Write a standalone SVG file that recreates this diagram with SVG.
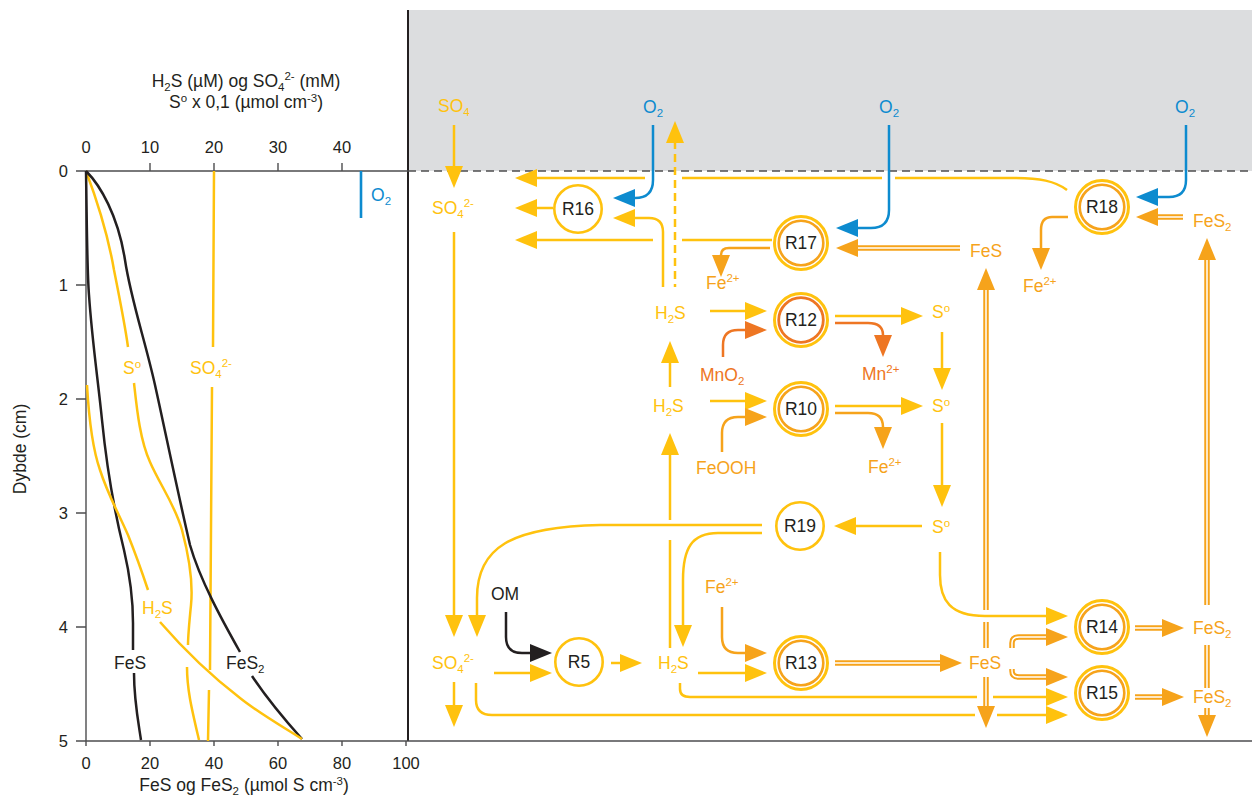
<svg xmlns="http://www.w3.org/2000/svg" width="1252" height="796" viewBox="0 0 1252 796">
<defs>
<style>
text{font-family:'Liberation Sans',Arial,Helvetica,sans-serif;font-size:17.5px}
.tick{font-size:16.5px;fill:#231F20}
.s{font-size:11.5px}
.ty{fill:#FFC20E}.to{fill:#F6A31B}.tm{fill:#EE7623}.tb{fill:#0D8BCF}.tk{fill:#231F20}
.halo{stroke:#fff;stroke-width:7;paint-order:stroke;stroke-linejoin:round}
.y{fill:none;stroke:#FFC20E;stroke-width:2.5}
.o{fill:none;stroke:#F6A31B;stroke-width:2.5}
.m{fill:none;stroke:#EE7623;stroke-width:2.5}
.b{fill:none;stroke:#0D8BCF;stroke-width:2.5}
.k{fill:none;stroke:#231F20;stroke-width:2.5}
.dbo{fill:none;stroke:#F6A31B;stroke-width:5.5}
.dbi{fill:none;stroke:#fff;stroke-width:1.5}
.ax{fill:none;stroke:#4D4D4F;stroke-width:1.4}
.c1{fill:#fff;stroke:#FFC20E;stroke-width:2.6}
.c2{fill:#fff;stroke:#FFC20E;stroke-width:3}
.ci{fill:none;stroke:#F6A31B;stroke-width:2.6}
.cim{fill:none;stroke:#EE7623;stroke-width:2.8}
.pk{fill:none;stroke:#231F20;stroke-width:2.5}
.py{fill:none;stroke:#FFC20E;stroke-width:2.5}
</style>
<marker id="ay" viewBox="0 0 22 18" refX="0" refY="9" markerWidth="22" markerHeight="18" markerUnits="userSpaceOnUse" orient="auto"><path d="M0,0 22,9 0,18z" fill="#FFC20E"/></marker>
<marker id="ao" viewBox="0 0 22 18" refX="0" refY="9" markerWidth="22" markerHeight="18" markerUnits="userSpaceOnUse" orient="auto"><path d="M0,0 22,9 0,18z" fill="#F6A31B"/></marker>
<marker id="am" viewBox="0 0 22 18" refX="0" refY="9" markerWidth="22" markerHeight="18" markerUnits="userSpaceOnUse" orient="auto"><path d="M0,0 22,9 0,18z" fill="#EE7623"/></marker>
<marker id="ab" viewBox="0 0 22 18" refX="0" refY="9" markerWidth="22" markerHeight="18" markerUnits="userSpaceOnUse" orient="auto"><path d="M0,0 22,9 0,18z" fill="#0D8BCF"/></marker>
<marker id="ak" viewBox="0 0 22 18" refX="0" refY="9" markerWidth="22" markerHeight="18" markerUnits="userSpaceOnUse" orient="auto"><path d="M0,0 22,9 0,18z" fill="#231F20"/></marker>
<path id="d1" d="M960,248 H858"/>
<path id="d2" d="M1183,217 H1158"/>
<path id="d3" d="M835,663 H940"/>
<path id="d4a" d="M986,648 V622"/>
<path id="d4b" d="M986,610 V290"/>
<path id="d5" d="M986,677 V706"/>
<path id="d6" d="M1012,648 V643 Q1012,637 1019,637 H1046"/>
<path id="d7" d="M1012,669 V671 Q1012,677 1019,677 H1046"/>
<path id="d8" d="M1135,628 H1162"/>
<path id="d9" d="M1135,697 H1162"/>
<path id="d10" d="M1207,605 V260"/>
<path id="d11" d="M1207,645 V688"/>
<path id="d12" d="M1207,708 V715"/>
</defs>
<rect width="1252" height="796" fill="#fff"/>
<rect x="408" y="10" width="844" height="161" fill="#DCDDDF"/>

<g id="frame">
<line x1="408" y1="10" x2="408" y2="741" stroke="#231F20" stroke-width="2"/>
<line x1="408" y1="171" x2="1252" y2="171" stroke="#4D4D4F" stroke-width="1.4" stroke-dasharray="8 5"/>
<line x1="408" y1="741" x2="1252" y2="741" class="ax"/>
</g>

<g id="profile-plot">
<path class="ax" d="M76,171 H408 M86,171 V741 M76,741 H408"/>
<path class="ax" d="M150,163 V171 M214,163 V171 M278,163 V171 M342,163 V171"/>
<path class="ax" d="M76,285 H86 M76,399 H86 M76,513 H86 M76,627 H86"/>
<path class="ax" d="M86,741 V746 M150,741 V746 M214,741 V746 M278,741 V746 M342,741 V746 M406,741 V746"/>
<g class="tick" text-anchor="middle">
<text class="tick" x="86" y="153">0</text><text class="tick" x="150" y="153">10</text><text class="tick" x="214" y="153">20</text><text class="tick" x="278" y="153">30</text><text class="tick" x="342" y="153">40</text>
<text class="tick" x="86" y="769">0</text><text class="tick" x="150" y="769">20</text><text class="tick" x="214" y="769">40</text><text class="tick" x="278" y="769">60</text><text class="tick" x="342" y="769">80</text><text class="tick" x="406" y="769">100</text>
</g>
<g text-anchor="end">
<text class="tick" x="68" y="177">0</text><text class="tick" x="68" y="291">1</text><text class="tick" x="68" y="405">2</text><text class="tick" x="68" y="519">3</text><text class="tick" x="68" y="633">4</text><text class="tick" x="68" y="747">5</text>
</g>
<text class="tk" x="246" y="87" text-anchor="middle">H<tspan class="s" dy="4">2</tspan><tspan dy="-4">S (µM) og SO</tspan><tspan class="s" dy="4">4</tspan><tspan class="s" dy="-11">2-</tspan><tspan dy="7"> (mM)</tspan></text>
<text class="tk" x="246" y="108" text-anchor="middle">S<tspan class="s" dy="-6">o</tspan><tspan dy="6"> x 0,1 (µmol cm</tspan><tspan class="s" dy="-6">-3</tspan><tspan dy="6">)</tspan></text>
<text class="tk" x="244" y="791" text-anchor="middle">FeS og FeS<tspan class="s" dy="4">2</tspan><tspan dy="-4"> (µmol S cm</tspan><tspan class="s" dy="-6">-3</tspan><tspan dy="6">)</tspan></text>
<text class="tk" transform="translate(26,449) rotate(-90)" text-anchor="middle">Dybde (cm)</text>
<!-- SO4 profile -->
<path class="py" d="M214,171 L213,347 M212,387 L210,670 M209,690 L208,741"/>
<!-- So profile -->
<path class="py" d="M86,171 C95,195 108,235 114,270 C120,300 125,325 128,347 M134,383 C137,410 140,440 150,462 C160,485 175,505 182,530 C190,560 193,585 191,605 C189,625 188,635 188,645 M187,667 C187,690 192,710 199,740"/>
<!-- FeS -->
<path class="pk" d="M86,171 C87,230 87,270 89,295 C92,340 98,380 102,420 C107,470 114,510 124,550 C131,580 133,600 133,623 L133,650 M134,673 C134,700 138,720 141,740"/>
<!-- FeS2 -->
<path class="pk" d="M86,171 C100,185 118,215 125,260 C131,300 145,340 155,385 C165,430 175,480 190,545 C200,580 222,620 240,652 M252,676 C268,700 285,720 302,739"/>
<!-- H2S -->
<path class="py" d="M87,385 C89,420 93,450 100,470 C108,495 118,512 128,535 C136,555 143,575 148,590 M160,622 C180,645 210,675 240,698 C260,714 285,728 302,739"/>
<line x1="361" y1="171" x2="361" y2="218" stroke="#0D8BCF" stroke-width="2.6"/>
<text class="tb" x="371" y="201">O<tspan class="s" dy="4">2</tspan></text>
<text class="ty" x="123" y="374">S<tspan class="s" dy="-6">o</tspan></text>
<text class="ty" x="190" y="374">SO<tspan class="s" dy="4">4</tspan><tspan class="s" dy="-11">2-</tspan></text>
<text class="ty" x="142" y="614">H<tspan class="s" dy="4">2</tspan><tspan dy="-4">S</tspan></text>
<text class="tk" x="114" y="669">FeS</text>
<text class="tk" x="226" y="669">FeS<tspan class="s" dy="4">2</tspan></text>
</g>

<g id="connectors">
<!-- yellow -->
<path class="y" d="M454,125 V166" marker-end="url(#ay)"/>
<path class="y" d="M454,232 V615" marker-end="url(#ay)"/>
<path class="y" d="M1067,190 C1055,181 1040,178 1013,178 H895 M882,178 H682"/>
<path class="y" d="M645,178 H537" marker-end="url(#ay)"/>
<path class="y" d="M553,208 H537" marker-end="url(#ay)"/>
<path class="y" d="M772,240 H682"/>
<path class="y" d="M653,240 H537" marker-end="url(#ay)"/>
<path class="y" d="M663,287 V232 Q663,218 649,218 H635" marker-end="url(#ay)"/>
<path class="y" d="M675,287 V143" stroke-dasharray="8 5" stroke-dashoffset="5" marker-end="url(#ay)"/>
<path class="y" d="M710,311 H745" marker-end="url(#ay)"/>
<path class="y" d="M835,316 H901" marker-end="url(#ay)"/>
<path class="y" d="M942,332 V368" marker-end="url(#ay)"/>
<path class="y" d="M670,387 V363" marker-end="url(#ay)"/>
<path class="y" d="M710,401 H745" marker-end="url(#ay)"/>
<path class="y" d="M835,406 H901" marker-end="url(#ay)"/>
<path class="y" d="M942,423 V485" marker-end="url(#ay)"/>
<path class="y" d="M670,648 V540"/>
<path class="y" d="M670,520 V455" marker-end="url(#ay)"/>
<path class="y" d="M922,526 H856" marker-end="url(#ay)"/>
<path class="y" d="M762,525 H600 C510,527 477,548 477,598 V615" marker-end="url(#ay)"/>
<path class="y" d="M762,533 H718 C692,533 683,548 683,580 V625" marker-end="url(#ay)"/>
<path class="y" d="M454,682 V705" marker-end="url(#ay)"/>
<path class="y" d="M494,673 H530" marker-end="url(#ay)"/>
<path class="y" d="M611,663 H620" marker-end="url(#ay)"/>
<path class="y" d="M698,673 H745" marker-end="url(#ay)"/>
<path class="y" d="M680,683 V689 Q680,697 690,697 H977"/>
<path class="y" d="M993,697 H1046" marker-end="url(#ay)"/>
<path class="y" d="M476,683 V700 Q476,715 492,715 H975"/>
<path class="y" d="M997,715 H1046" marker-end="url(#ay)"/>
<path class="y" d="M940,552 V575 C940,600 950,616 985,616 H1046" marker-end="url(#ay)"/>
<!-- orange -->
<path class="o" d="M770,248 H729 Q721,248 721,255" marker-end="url(#ao)"/>
<path class="o" d="M1068,217 H1052 Q1041,217 1041,230 V248" marker-end="url(#ao)"/>
<path class="o" d="M722,452 V433 Q722,417 738,417 H745" marker-end="url(#ao)"/>
<path class="o" d="M835,413 H868 Q883,413 883,427" marker-end="url(#ao)"/>
<path class="o" d="M722,607 V637 Q722,653 738,653 H745" marker-end="url(#ao)"/>
<!-- dark orange -->
<path class="m" d="M723,357 V345 Q723,330 738,330 H745" marker-end="url(#am)"/>
<path class="m" d="M835,323 H868 Q883,323 883,335" marker-end="url(#am)"/>
<!-- blue -->
<path class="b" d="M653,125 V180 Q653,198 635,198" marker-end="url(#ab)"/>
<path class="b" d="M889,125 V210 Q889,228 871,228 H858" marker-end="url(#ab)"/>
<path class="b" d="M1186,125 V180 Q1186,197 1169,197 H1158" marker-end="url(#ab)"/>
<!-- black -->
<path class="k" d="M506,612 V637 Q506,653 522,653 H530" marker-end="url(#ak)"/>
<!-- double orange -->
<use href="#d1" class="dbo" marker-end="url(#ao)"/><use href="#d1" class="dbi"/>
<use href="#d2" class="dbo" marker-end="url(#ao)"/><use href="#d2" class="dbi"/>
<use href="#d3" class="dbo" marker-end="url(#ao)"/><use href="#d3" class="dbi"/>
<use href="#d4a" class="dbo"/><use href="#d4a" class="dbi"/>
<use href="#d4b" class="dbo" marker-end="url(#ao)"/><use href="#d4b" class="dbi"/>
<use href="#d5" class="dbo" marker-end="url(#ao)"/><use href="#d5" class="dbi"/>
<use href="#d6" class="dbo" marker-end="url(#ao)"/><use href="#d6" class="dbi"/>
<use href="#d7" class="dbo" marker-end="url(#ao)"/><use href="#d7" class="dbi"/>
<use href="#d8" class="dbo" marker-end="url(#ao)"/><use href="#d8" class="dbi"/>
<use href="#d9" class="dbo" marker-end="url(#ao)"/><use href="#d9" class="dbi"/>
<use href="#d10" class="dbo" marker-end="url(#ao)"/><use href="#d10" class="dbi"/>
<use href="#d11" class="dbo"/><use href="#d11" class="dbi"/>
<use href="#d12" class="dbo" marker-end="url(#ao)"/><use href="#d12" class="dbi"/>
</g>

<g id="species">
<g id="SO4-water"><text class="ty" x="438" y="112">SO<tspan class="s" dy="4">4</tspan></text></g>
<g id="O2-a"><text class="tb" x="643" y="113">O<tspan class="s" dy="4">2</tspan></text></g>
<g id="O2-b"><text class="tb" x="879" y="113">O<tspan class="s" dy="4">2</tspan></text></g>
<g id="O2-c"><text class="tb" x="1175" y="113">O<tspan class="s" dy="4">2</tspan></text></g>
<g id="SO4-top"><text class="ty" x="432" y="214">SO<tspan class="s" dy="4">4</tspan><tspan class="s" dy="-11">2-</tspan></text></g>
<g id="SO4-bottom"><text class="ty" x="432" y="669">SO<tspan class="s" dy="4">4</tspan><tspan class="s" dy="-11">2-</tspan></text></g>
<g id="Fe2-a"><text class="to" x="706" y="289">Fe<tspan class="s" dy="-7">2+</tspan></text></g>
<g id="Fe2-b"><text class="to" x="1023" y="292">Fe<tspan class="s" dy="-7">2+</tspan></text></g>
<g id="FeS-top"><text class="to" x="970" y="257">FeS</text></g>
<g id="FeS2-top"><text class="to" x="1193" y="227">FeS<tspan class="s" dy="4">2</tspan></text></g>
<g id="H2S-a"><text class="ty" x="655" y="319">H<tspan class="s" dy="4">2</tspan><tspan dy="-4">S</tspan></text></g>
<g id="S0-a"><text class="ty" x="932" y="318">S<tspan class="s" dy="-6">o</tspan></text></g>
<g id="MnO2"><text class="tm" x="700" y="381">MnO<tspan class="s" dy="4">2</tspan></text></g>
<g id="Mn2"><text class="tm" x="862" y="380">Mn<tspan class="s" dy="-7">2+</tspan></text></g>
<g id="H2S-b"><text class="ty" x="653" y="412">H<tspan class="s" dy="4">2</tspan><tspan dy="-4">S</tspan></text></g>
<g id="S0-b"><text class="ty" x="932" y="412">S<tspan class="s" dy="-6">o</tspan></text></g>
<g id="FeOOH"><text class="to" x="696" y="474">FeOOH</text></g>
<g id="Fe2-c"><text class="to" x="868" y="473">Fe<tspan class="s" dy="-7">2+</tspan></text></g>
<g id="S0-c"><text class="ty" x="932" y="533">S<tspan class="s" dy="-6">o</tspan></text></g>
<g id="OM"><text class="tk" x="491" y="600">OM</text></g>
<g id="Fe2-d"><text class="to" x="705" y="593">Fe<tspan class="s" dy="-7">2+</tspan></text></g>
<g id="H2S-c"><text class="ty" x="658" y="669">H<tspan class="s" dy="4">2</tspan><tspan dy="-4">S</tspan></text></g>
<g id="FeS-bottom"><text class="to" x="969" y="669">FeS</text></g>
<g id="FeS2-a"><text class="to" x="1193" y="634">FeS<tspan class="s" dy="4">2</tspan></text></g>
<g id="FeS2-b"><text class="to" x="1193" y="703">FeS<tspan class="s" dy="4">2</tspan></text></g>
</g>

<g id="reactions" text-anchor="middle">
<g id="R16"><circle class="c1" cx="578" cy="209" r="23.7"/><text class="tk" x="578" y="215">R16</text></g>
<g id="R17"><circle class="c2" cx="801" cy="243" r="26.5"/><circle class="ci" cx="801" cy="243" r="22.3"/><text class="tk" x="801" y="249">R17</text></g>
<g id="R18"><circle class="c2" cx="1102" cy="207" r="26.5"/><circle class="ci" cx="1102" cy="207" r="22.3"/><text class="tk" x="1102" y="213">R18</text></g>
<g id="R12"><circle class="c2" cx="801" cy="320" r="26.5"/><circle class="cim" cx="801" cy="320" r="22.3"/><text class="tk" x="801" y="326">R12</text></g>
<g id="R10"><circle class="c2" cx="801" cy="409" r="26.5"/><circle class="ci" cx="801" cy="409" r="22.3"/><text class="tk" x="801" y="415">R10</text></g>
<g id="R19"><circle class="c1" cx="800" cy="526" r="23.7"/><text class="tk" x="800" y="532">R19</text></g>
<g id="R5"><circle class="c1" cx="579" cy="662" r="23.7"/><text class="tk" x="579" y="668">R5</text></g>
<g id="R13"><circle class="c2" cx="801" cy="663" r="26.5"/><circle class="ci" cx="801" cy="663" r="22.3"/><text class="tk" x="801" y="669">R13</text></g>
<g id="R14"><circle class="c2" cx="1102" cy="627" r="26.5"/><circle class="ci" cx="1102" cy="627" r="22.3"/><text class="tk" x="1102" y="633">R14</text></g>
<g id="R15"><circle class="c2" cx="1102" cy="693" r="26.5"/><circle class="ci" cx="1102" cy="693" r="22.3"/><text class="tk" x="1102" y="699">R15</text></g>
</g>
</svg>
